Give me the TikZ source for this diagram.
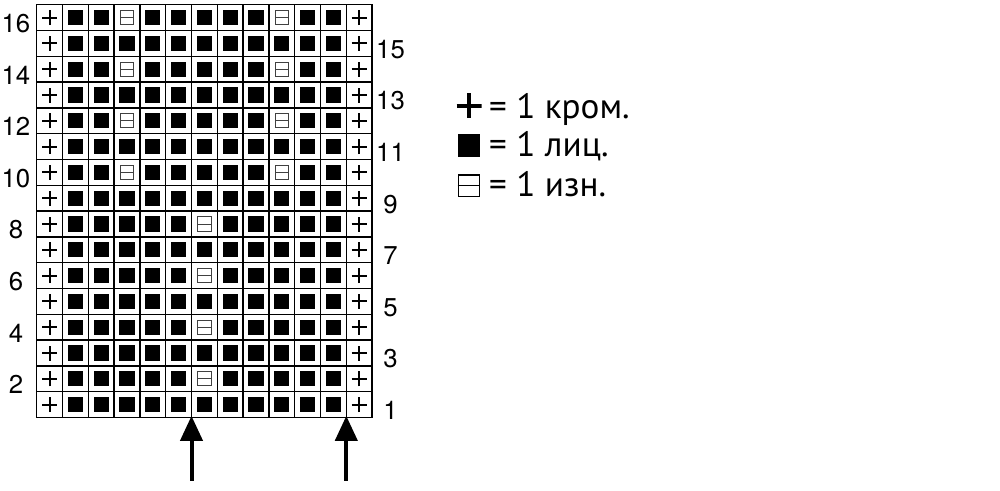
\documentclass[tikz,border=0pt]{standalone}
\usepackage{fontspec}
\setmainfont{TeX Gyre Heros}
\newfontfamily\legendfont{PT Sans}
\usetikzlibrary{arrows.meta}

\tikzset{
  cell/.style = {draw, line width=0.38mm, minimum size=7.74mm, inner sep=0pt, outer sep=0pt},
  edge/.style = {cell, path picture={
      \draw[line width=0.6mm] ([xshift=-2.25mm]path picture bounding box.center) -- ([xshift=2.25mm]path picture bounding box.center);
      \draw[line width=0.6mm] ([yshift=-2.25mm]path picture bounding box.center) -- ([yshift=2.25mm]path picture bounding box.center);}},
  knit/.style = {cell, path picture={
      \fill ([shift={(-2.3mm,-2.3mm)}]path picture bounding box.center) rectangle ([shift={(2.3mm,2.3mm)}]path picture bounding box.center);}},
  purl/.style = {cell, path picture={
      \draw[line width=0.3mm, black!75] ([shift={(-2mm,-2.15mm)}]path picture bounding box.center) rectangle ([shift={(2mm,2.15mm)}]path picture bounding box.center);
      \draw[line width=0.3mm, black!75] ([xshift=-2mm]path picture bounding box.center) -- ([xshift=2mm]path picture bounding box.center);}},
  legplus/.style = {minimum size=7.5mm, inner sep=0pt, path picture={
      \draw[line width=1.2mm] (path picture bounding box.west) -- (path picture bounding box.east);
      \draw[line width=1.2mm] (path picture bounding box.north) -- (path picture bounding box.south);}},
  rownum/.style = {font=\fontsize{22pt}{22pt}\selectfont, inner sep=0pt},
  legtext/.style = {font=\legendfont\fontsize{30pt}{30pt}\selectfont, inner sep=0pt, anchor=base west},
  uparrow/.style = {line width=1.2mm, -{Triangle[width=6.6mm, length=7.5mm]}, shorten >=-0.5mm},
}

\begin{document}
\begin{tikzpicture}[x=0.3mm, y=-0.3mm]
\useasboundingbox (0,0) rectangle (1000,491);

% chart: 13 stitches, 16 rows
\foreach \r in {1,...,16} {
  \foreach \c in {1,...,13} {
    \pgfmathsetmacro{\cx}{36.7+(\c-0.5)*25.8}
    \pgfmathsetmacro{\cy}{4.7+(16-\r+0.5)*25.8}
    \pgfmathtruncatemacro{\up}{(\r>8 && mod(\r,2)==0 && (\c==4 || \c==10)) ? 1 : 0}
    \pgfmathtruncatemacro{\lo}{(\r<9 && mod(\r,2)==0 && \c==7) ? 1 : 0}
    \ifnum\c=1
      \node[edge] (c\r-\c) at (\cx,\cy) {};
    \else\ifnum\c=13
      \node[edge] (c\r-\c) at (\cx,\cy) {};
    \else\ifnum\up=1
      \node[purl] (c\r-\c) at (\cx,\cy) {};
    \else\ifnum\lo=1
      \node[purl] (c\r-\c) at (\cx,\cy) {};
    \else
      \node[knit] (c\r-\c) at (\cx,\cy) {};
    \fi\fi\fi\fi
  }
}

% row numbers
\foreach \r in {2,4,...,16}
  \node[rownum] (n\r) at ([yshift=-1.8mm]c\r-1.center) [xshift=-10.1mm] {\r};
\foreach \r in {1,3,...,15}
  \node[rownum] (n\r) at ([yshift=-1.8mm]c\r-13.center) [xshift=9.4mm] {\r};

% arrows
\coordinate (a1) at ([yshift=-19mm]c1-6.south east);
\coordinate (a2) at ([yshift=-19mm]c1-12.south east);
\draw[uparrow] (a1) -- (c1-6.south east);
\draw[uparrow] (a2) -- (c1-12.south east);

% legend
\node[legplus] (k1) at (469,105.5) {};
\node[legtext] (t1) at (489,118) {= 1 кром.};

\node[fill, minimum size=6.7mm, inner sep=0pt] (k2) at (469,145.5) {};
\node[legtext] (t2) at (489,156.7) {= 1 лиц.};

\node[draw, line width=0.4mm, minimum size=6.4mm, inner sep=0pt] (k3) at (469,185.8) {};
\draw[line width=0.4mm] (k3.west) -- (k3.east);
\node[legtext] (t3) at (489,196.7) {= 1 изн.};

\end{tikzpicture}
\end{document}
